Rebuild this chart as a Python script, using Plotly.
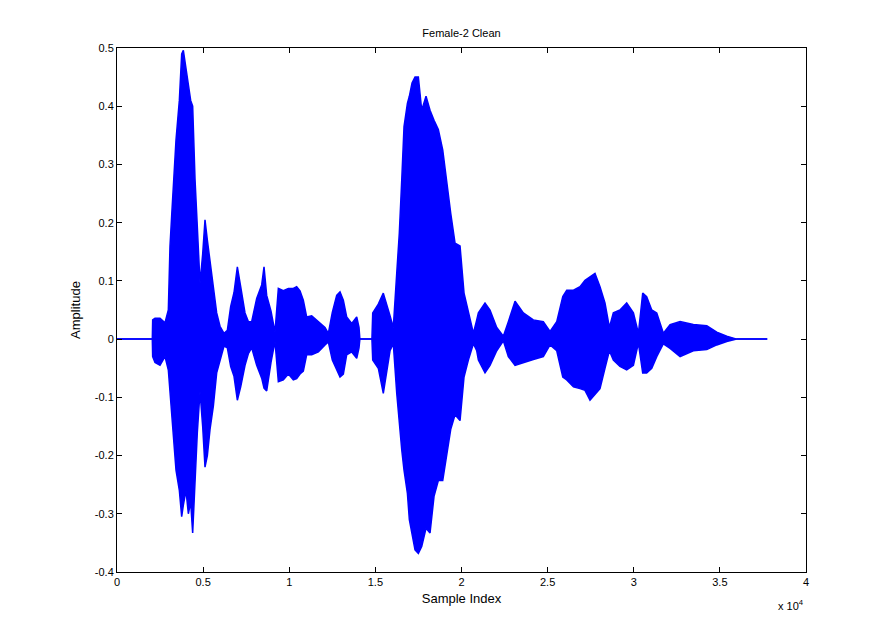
import plotly.graph_objects as go

# Envelope of the waveform (sample index, max, min)
sample_index = [0, 2050, 2070, 2206, 2497, 2787, 2980, 3077, 3174, 3270, 3425, 3620, 3755, 3852,
                4006, 4142, 4277, 4393, 4529, 4664, 4819, 4974, 5109, 5245, 5400, 5593, 5787,
                5980, 6213, 6406, 6600, 6793, 6987, 7180, 7432, 7625, 7819, 8110, 8400, 8535,
                8690, 8941, 9173, 9367, 9657, 9947, 10237, 10430, 10625, 10817, 11011, 11303,
                11690, 12076, 12270, 12500, 12754, 12947, 13140, 13334, 13627, 13917, 14050,
                14100, 14800, 14845, 15170, 15460, 15850, 16040, 16240, 16390, 16530, 16663,
                16860, 16972, 17128, 17302, 17495, 17690, 17940, 18173, 18405, 18655, 18910,
                19140, 19375, 19625, 19915, 20147, 20398, 20690, 20884, 20980, 21365, 21656,
                22045, 22430, 22720, 23108, 23590, 24170, 24750, 25140, 25530, 25880, 26110,
                26500, 26880, 27170, 27460, 27750, 28040, 28330, 28585, 28815, 29200, 29590,
                29980, 30270, 30520, 30750, 31045, 31335, 31720, 32110, 32690, 33460, 34240,
                34820, 35400, 35980, 37750]
upper_env = [0, 0, 0.033, 0.036, 0.036, 0.028, 0.050, 0.160, 0.212, 0.270, 0.342, 0.410, 0.490,
             0.496, 0.467, 0.433, 0.410, 0.400, 0.275, 0.192, 0.096, 0.146, 0.205, 0.170, 0.136,
             0.090, 0.045, 0.022, 0.010, 0.015, 0.056, 0.080, 0.124, 0.090, 0.045, 0.030, 0.030,
             0.070, 0.093, 0.124, 0.075, 0.048, 0.012, 0.087, 0.083, 0.087, 0.087, 0.090, 0.083,
             0.067, 0.038, 0.040, 0.030, 0.020, 0.010, 0.046, 0.075, 0.081, 0.067, 0.038, 0.027,
             0.038, 0.020, 0, 0, 0.045, 0.060, 0.079, 0.040, 0.020, 0.113, 0.182, 0.273, 0.365,
             0.405, 0.417, 0.440, 0.450, 0.450, 0.393, 0.417, 0.393, 0.376, 0.360, 0.325, 0.268,
             0.216, 0.165, 0.160, 0.079, 0.045, 0.010, 0.033, 0.045, 0.062, 0.050, 0.020, 0.005,
             0.030, 0.065, 0.045, 0.033, 0.030, 0.013, 0.030, 0.073, 0.084, 0.084, 0.090, 0.101,
             0.107, 0.113, 0.090, 0.062, 0.020, 0.045, 0.050, 0.062, 0.045, 0.010, 0.079, 0.073,
             0.050, 0.045, 0.010, 0.025, 0.030, 0.025, 0.023, 0.012, 0.005, 0, 0]
lower_env = [0, 0, -0.030, -0.040, -0.045, -0.030, -0.053, -0.090, -0.130, -0.168, -0.225,
             -0.260, -0.305, -0.285, -0.260, -0.300, -0.280, -0.333, -0.240, -0.160, -0.090,
             -0.150, -0.220, -0.200, -0.155, -0.115, -0.058, -0.036, -0.012, -0.015, -0.047,
             -0.064, -0.105, -0.082, -0.045, -0.025, -0.015, -0.045, -0.067, -0.084, -0.089,
             -0.040, -0.004, -0.073, -0.070, -0.060, -0.070, -0.068, -0.060, -0.055, -0.027,
             -0.027, -0.022, -0.010, -0.005, -0.036, -0.053, -0.065, -0.060, -0.027, -0.022,
             -0.033, -0.015, 0, 0, -0.036, -0.050, -0.093, -0.020, -0.008, -0.093, -0.150,
             -0.190, -0.225, -0.265, -0.310, -0.333, -0.362, -0.368, -0.356, -0.325, -0.333,
             -0.270, -0.243, -0.243, -0.200, -0.155, -0.130, -0.140, -0.065, -0.036, -0.008,
             -0.020, -0.036, -0.058, -0.045, -0.020, -0.003, -0.030, -0.045, -0.040, -0.035,
             -0.030, -0.010, -0.020, -0.065, -0.070, -0.082, -0.085, -0.088, -0.105, -0.095,
             -0.085, -0.050, -0.020, -0.036, -0.047, -0.053, -0.045, -0.007, -0.058, -0.058,
             -0.050, -0.030, -0.008, -0.016, -0.030, -0.020, -0.018, -0.010, -0.004, 0, 0]

x_ticks = [0, 5000, 10000, 15000, 20000, 25000, 30000, 35000, 40000]
x_tick_labels = ["0", "0.5", "1", "1.5", "2", "2.5", "3", "3.5", "4"]
y_ticks = [-0.4, -0.3, -0.2, -0.1, 0, 0.1, 0.2, 0.3, 0.4, 0.5]
y_tick_labels = ["-0.4", "-0.3", "-0.2", "-0.1", "0", "0.1", "0.2", "0.3", "0.4", "0.5"]

blue = "#0000ff"

fig = go.Figure()
fig.add_trace(go.Scatter(x=sample_index, y=upper_env, mode="lines", name="max",
                         line=dict(color=blue, width=1.5), hoverinfo="skip"))
fig.add_trace(go.Scatter(x=sample_index, y=lower_env, mode="lines", name="min", fill="tonexty",
                         fillcolor=blue, line=dict(color=blue, width=1.5), hoverinfo="skip"))

axis_style = dict(showgrid=False, zeroline=False, showline=True, linecolor="black",
                  linewidth=1, mirror="allticks", ticks="inside", ticklen=5,
                  tickcolor="black", tickfont=dict(size=11, color="black"))

# the page adds an 8px body margin, so margins are shifted by that much
fig.update_layout(
    width=891, height=640,
    margin=dict(l=109, r=93, t=40, b=76),
    paper_bgcolor="white", plot_bgcolor="white",
    font=dict(family="Liberation Sans, Arial, sans-serif", size=11, color="black"),
    showlegend=False,
    title=dict(text="Female-2 Clean", x=0.5, xref="paper", xanchor="center",
               y=1 - 25 / 640, yref="container", yanchor="middle",
               font=dict(size=11, color="black")),
    xaxis=dict(range=[0, 40000], tickvals=x_ticks, ticktext=x_tick_labels,
               title=dict(text="Sample Index", standoff=6), **axis_style),
    yaxis=dict(range=[-0.4, 0.5], tickvals=y_ticks, ticktext=y_tick_labels,
               title=dict(text="Amplitude", standoff=11), **axis_style),
    annotations=[dict(text="x 10<sup>4</sup>", xref="paper", yref="paper",
                      x=1.0, y=-0.045, xanchor="right", yanchor="top",
                      showarrow=False, font=dict(size=11, color="black"))],
)

fig.write_html("out.html")
